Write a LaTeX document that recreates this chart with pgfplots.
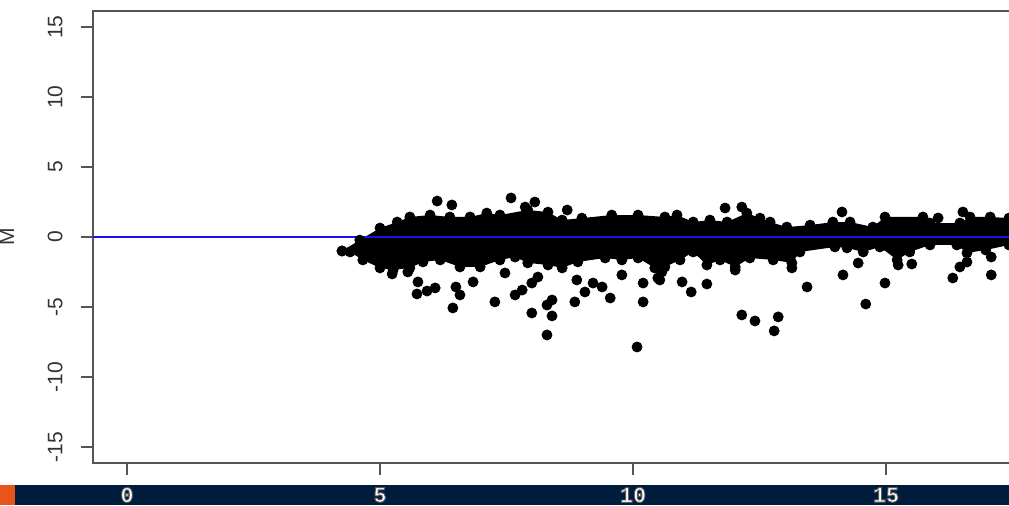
\documentclass[border=0pt]{standalone}
\usepackage{pgfplots}
\pgfplotsset{compat=1.18}
\usepackage{pgfplotstable}
\usepgfplotslibrary{fillbetween}
\usepackage{fontspec}
\setmainfont{Liberation Sans}
\newfontfamily\bandfont{Liberation Mono}

\definecolor{band}{RGB}{0,28,60}
\definecolor{tab}{RGB}{232,84,28}
\definecolor{frame}{RGB}{85,85,85}
\definecolor{refline}{RGB}{20,20,235}

% outlined digits for the bottom band: white fill, grey stroke
\newcommand\outlined[1]{\special{pdf:literal direct 2 Tr 0.45 w 0.35 G}#1\special{pdf:literal direct 0 Tr 0.4 w}}

% upper and lower edges of the dense body of points (A, M)
\pgfplotstableread{
A M
4.25 -1.00
4.60 -0.22
5.00 0.64
5.34 1.07
5.59 1.43
5.99 1.57
6.38 1.43
6.78 1.43
7.11 1.71
7.37 1.57
7.92 1.93
8.32 1.78
8.60 1.21
8.99 1.35
9.58 1.57
10.10 1.57
10.63 1.43
10.87 1.57
11.19 1.07
11.52 1.21
11.86 1.07
12.25 1.71
12.51 1.35
12.71 1.07
13.04 0.71
13.50 0.85
13.95 1.07
14.29 1.07
14.74 0.71
14.98 1.43
15.73 1.43
15.87 1.00
16.46 1.00
16.66 1.43
17.06 1.43
17.43 1.35
18.00 1.35
}\upedge

\pgfplotstableread{
A M
4.25 -1.00
4.41 -1.07
4.66 -1.64
5.00 -2.21
5.26 -2.35
5.59 -2.21
5.85 -1.78
6.19 -1.64
6.58 -2.14
6.98 -2.14
7.37 -1.64
7.67 -1.43
7.92 -1.85
8.32 -2.00
8.60 -2.21
8.91 -1.78
9.45 -1.50
9.78 -1.64
10.10 -1.50
10.43 -2.21
10.63 -2.14
10.93 -1.64
11.19 -1.07
11.46 -2.00
11.72 -1.64
12.02 -2.14
12.31 -1.50
12.77 -1.64
13.14 -1.85
13.30 -1.07
13.99 -0.71
14.23 -0.78
14.55 -1.07
14.88 -0.71
15.22 -1.64
15.47 -1.07
15.87 -0.57
16.40 -0.57
16.60 -1.14
16.97 -0.93
17.43 -0.57
18.00 -0.57
}\lowedge

% isolated points outside the dense body
\pgfplotstableread{
A M
6.13 2.57
6.42 2.29
7.59 2.79
7.87 2.14
8.06 2.50
8.70 1.93
11.82 2.07
12.15 2.14
14.13 1.79
16.03 1.36
16.52 1.79
5.24 -2.64
5.55 -2.50
5.75 -3.21
5.73 -4.07
5.93 -3.86
6.09 -3.64
6.50 -3.57
6.58 -4.14
6.44 -5.07
6.84 -3.21
7.27 -4.64
7.47 -2.57
8.00 -3.29
8.12 -2.86
7.67 -4.14
7.81 -3.79
8.00 -5.43
8.30 -4.86
8.40 -4.50
8.40 -5.64
8.30 -7.00
8.85 -4.64
8.89 -3.07
9.05 -3.93
9.21 -3.29
9.39 -3.57
9.55 -4.36
9.78 -2.71
10.20 -3.29
10.20 -4.64
10.08 -7.86
10.49 -2.93
10.57 -2.50
10.53 -3.07
10.97 -3.21
11.15 -3.93
11.46 -3.36
12.02 -2.36
12.15 -5.57
12.41 -6.00
12.87 -5.71
12.79 -6.71
13.14 -2.21
13.44 -3.57
14.45 -1.86
14.15 -2.71
14.98 -3.29
14.60 -4.79
15.24 -2.00
15.51 -1.93
16.32 -2.93
16.46 -2.14
16.60 -1.79
17.08 -1.43
17.08 -2.71
}\outliers

\begin{document}
\begin{tikzpicture}
% bottom band
\fill[band] (0pt,0pt) rectangle (504.5pt,10pt);
\fill[tab] (0pt,0pt) rectangle (7.5pt,10pt);

\begin{axis}[
  at={(46.5pt,21pt)}, anchor=south west,
  scale only axis, width=472.4pt, height=226pt,
  xmin=-0.672, xmax=18, ymin=-16.15, ymax=16.15,
  xtick={0,5,10,15}, ytick={-15,-10,-5,0,5,10,15},
  xtick pos=bottom, ytick pos=left,
  tick align=outside, major tick length=6pt,
  axis line style={frame, line width=1pt},
  tick style={frame, line width=1pt},
  /pgf/number format/assume math mode=true,
  yticklabel style={xshift=-9pt, rotate=90, anchor=south, inner sep=0pt,
    font=\fontsize{10.5}{12}\selectfont, text=black!80},
  xticklabel style={yshift=-10pt, anchor=center, inner sep=0pt,
    font=\bandfont\bfseries\fontsize{11}{12}\selectfont, text=white},
  xticklabel={\outlined{\pgfmathprintnumber{\tick}}},
]
\addplot[name path=up, draw=none, mark=*, mark size=2.5pt,
  mark options={fill=black, draw=none}] table[x=A, y=M] {\upedge};
\addplot[name path=lo, draw=none, mark=*, mark size=2.5pt,
  mark options={fill=black, draw=none}] table[x=A, y=M] {\lowedge};
\addplot[black] fill between[of=up and lo];
\addplot[only marks, mark=*, mark size=2.5pt,
  mark options={fill=black, draw=none}] table[x=A, y=M] {\outliers};
\addplot[refline, line width=0.9pt] coordinates {(-0.672,0) (18,0)};
\end{axis}

\node[rotate=90, font=\fontsize{10.5}{12}\selectfont, text=black!80]
  at (3.5pt,134pt) {M};

\pgfresetboundingbox
\useasboundingbox (0pt,0pt) rectangle (504.5pt,252.5pt);
\end{tikzpicture}
\end{document}
